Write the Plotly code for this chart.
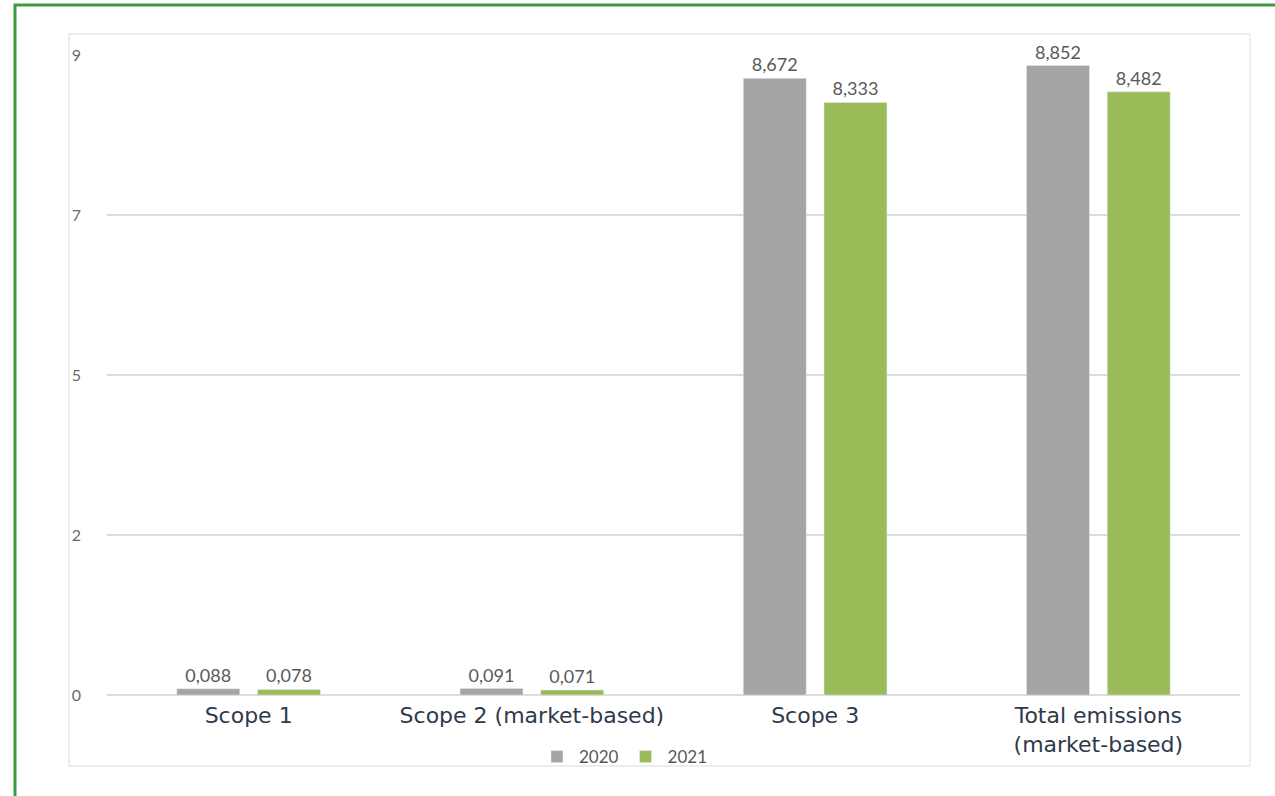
import plotly.graph_objects as go

categories = ["Scope 1", "Scope 2 (market-based)", "Scope 3", "Total emissions<br>(market-based)"]
values_2020 = [0.088, 0.091, 8.672, 8.852]
values_2021 = [0.078, 0.071, 8.333, 8.482]
series_names = ["2020", "2021"]
y_tickvals = [0, 2.25, 4.5, 6.75, 9]
y_ticktext = ["0", "2", "5", "7", "9"]

W, H = 1275, 796
L, R, T, B = 107, 35, 55, 101
pw, ph = W - L - R, H - T - B

def px_x(p):
    return (p - L) / pw

def px_y(p):
    return (H - B - p) / ph

label_font = dict(family="Lato, Open Sans, sans-serif", size=18, color="#595959")

fig = go.Figure()
fig.add_trace(go.Bar(
    x=categories, y=values_2020, name=series_names[0],
    marker_color="#a5a5a5",
    texttemplate="%{y:.3f}", textposition="outside", textfont=label_font,
    cliponaxis=False,
))
fig.add_trace(go.Bar(
    x=categories, y=values_2021, name=series_names[1],
    marker_color="#9bbb59",
    texttemplate="%{y:.3f}", textposition="outside", textfont=label_font,
    cliponaxis=False,
))

fig.update_layout(
    width=W, height=H,
    margin=dict(l=L, r=R, t=T, b=B),
    paper_bgcolor="white", plot_bgcolor="white",
    separators=",.",
    barmode="group", bargap=0.43, bargroupgap=0.22,
    showlegend=True,
    legend=dict(orientation="h", x=px_x(624), xanchor="center", y=px_y(757), yanchor="middle",
                bgcolor="rgba(0,0,0,0)",
                font=dict(family="Lato, Open Sans, sans-serif", size=17, color="#595959"),
                itemwidth=34, traceorder="normal"),
    font=dict(family="Lato, Open Sans, sans-serif"),
)
fig.update_xaxes(
    showgrid=False, showline=False, zeroline=False, ticks="",
    tickfont=dict(family="DejaVu Sans, Open Sans, sans-serif", size=22, color="#2e3a4c"),
    ticklabelstandoff=5,
)
fig.update_yaxes(
    range=[0, 9], tickvals=y_tickvals, ticktext=y_ticktext,
    showgrid=True, gridcolor="#dcdcdc", gridwidth=1.5,
    zeroline=True, zerolinecolor="#dcdcdc", zerolinewidth=1.5,
    showline=False, ticks="",
    tickfont=dict(family="Lato, Open Sans, sans-serif", size=16, color="#6a6a6a"),
    ticklabelstandoff=25,
)

# inner light frame
fig.add_shape(type="rect", xref="paper", yref="paper",
              x0=px_x(69), x1=px_x(1250), y0=px_y(766), y1=px_y(34),
              line=dict(color="#e8e8e8", width=1.5), fillcolor="rgba(0,0,0,0)", layer="below")
# outer green border
fig.add_shape(type="rect", xref="paper", yref="paper",
              x0=px_x(15), x1=px_x(1290), y0=px_y(820), y1=px_y(5),
              line=dict(color="#3f9b43", width=3), fillcolor="rgba(0,0,0,0)")

fig.write_html("out.html")
